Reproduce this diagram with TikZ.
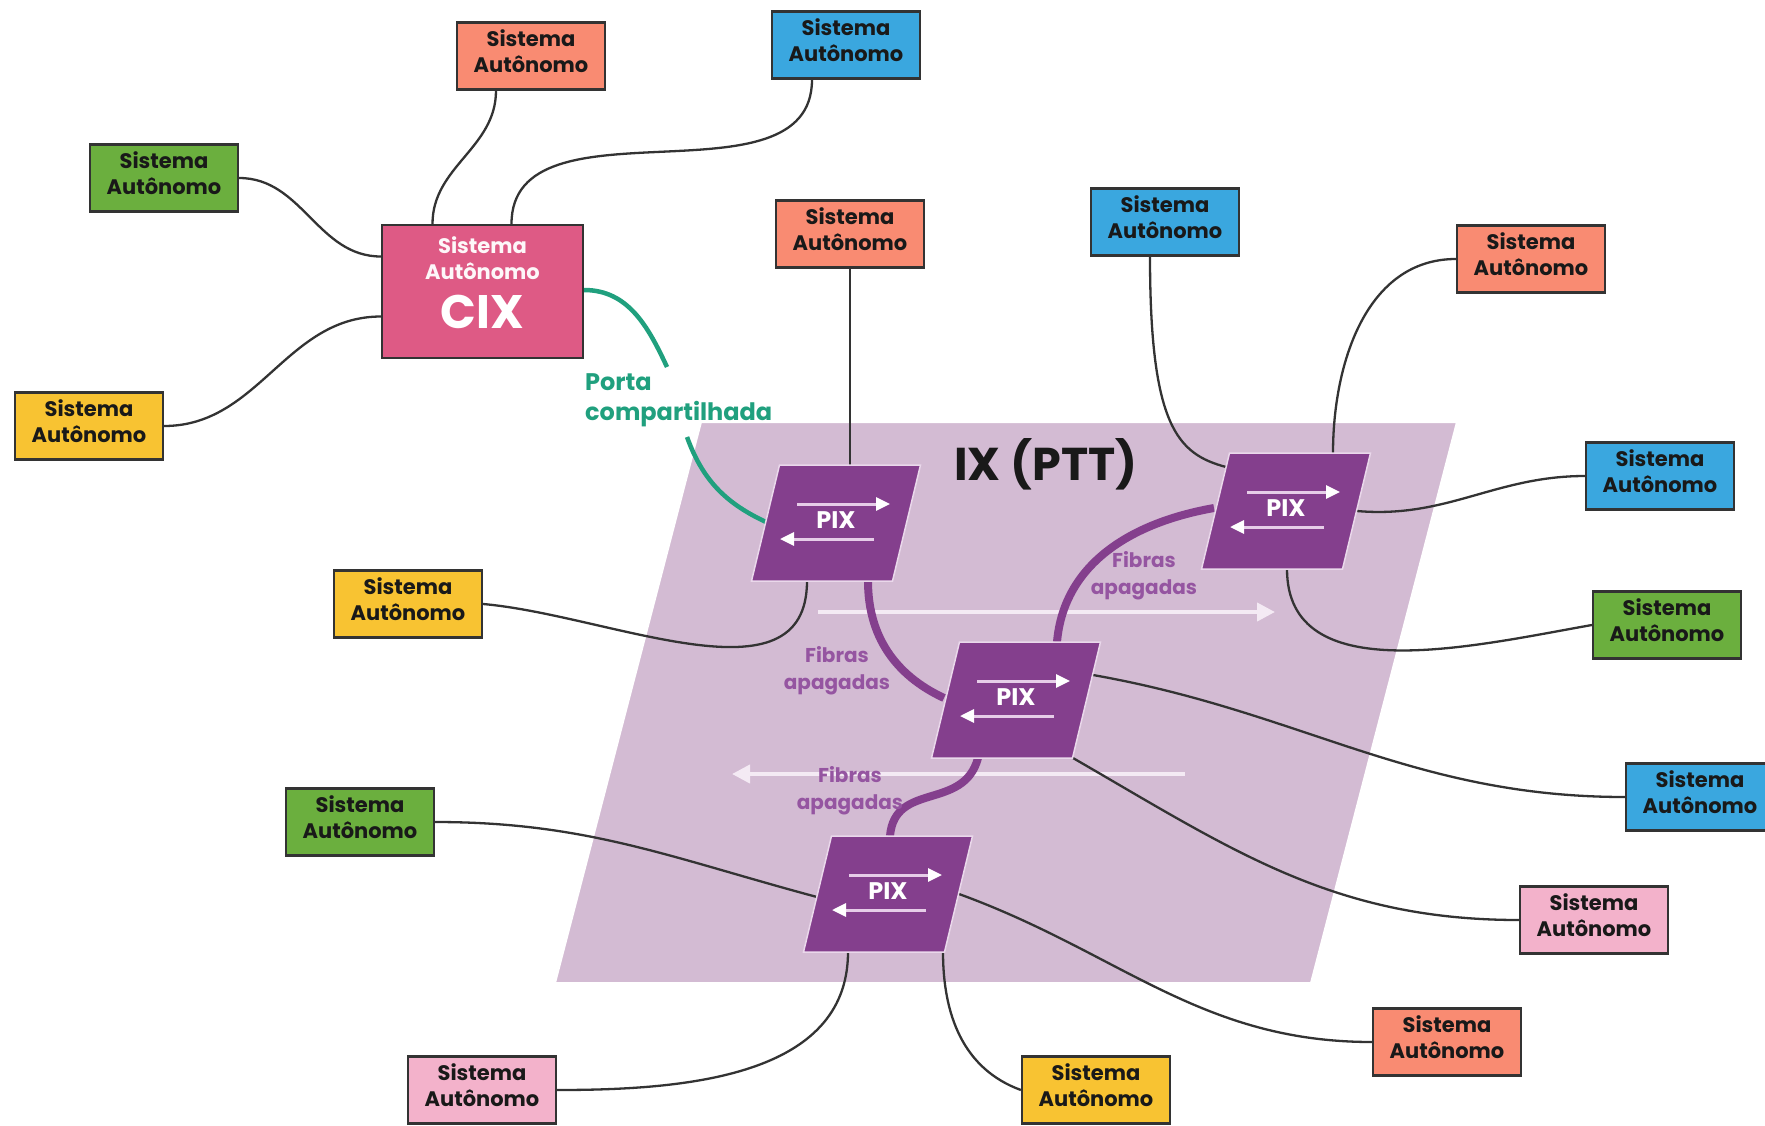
\documentclass[tikz,border=0pt]{standalone}
\usepackage{fontspec}
\setmainfont{Poppins}
\usetikzlibrary{arrows.meta,calc}
\definecolor{salmon}{HTML}{F98B72}
\definecolor{asblue}{HTML}{3AA7DF}
\definecolor{asgreen}{HTML}{6BAF3E}
\definecolor{asyellow}{HTML}{F8C332}
\definecolor{aspink}{HTML}{F3B2CB}
\definecolor{cixpink}{HTML}{DE5A85}
\definecolor{portateal}{HTML}{20A07E}
\definecolor{ixbg}{HTML}{D3BBD3}
\definecolor{pixpurple}{HTML}{843F8D}
\definecolor{pixedge}{HTML}{EAD8EB}
\definecolor{pixline}{HTML}{E6CDE8}
\definecolor{fibtext}{HTML}{9555A1}
\definecolor{wirecol}{HTML}{333333}
\definecolor{ixarrow}{HTML}{F4EAF4}
\tikzset{
  asbox/.style={draw=wirecol, line width=2.2pt, minimum width=148pt, minimum height=67pt,
    inner sep=0pt, align=center, text depth=9pt, font=\bfseries\fontsize{21}{26}\selectfont, text=black!90},
  wire/.style={draw=wirecol, line width=2.3pt},
  fiber/.style={draw=pixpurple, line width=8pt},
  porta/.style={draw=portateal, line width=4.5pt},
  bigarrow/.style={draw=ixarrow, line width=4pt, -{Triangle[width=18pt,length=18pt]}},
  pixarrow/.style={draw=pixline, line width=3pt, -{Triangle[width=13pt,length=14pt,color=white]}},
  pixtext/.style={text=white, font=\bfseries\fontsize{24}{24}\selectfont, inner sep=0pt},
  fibtxt/.style={text=fibtext, align=center, font=\bfseries\fontsize{20}{27}\selectfont},
}
\newcommand{\pixnode}[3]{%
  \coordinate (#1c) at (#2,#3);
  \fill[pixpurple, draw=pixedge, line width=1.5pt] ($(#1c)+(-56.5,-58)$) -- ($(#1c)+(84.5,-58)$) -- ($(#1c)+(56.5,58)$) -- ($(#1c)+(-84.5,58)$) -- cycle;
  \draw[pixarrow] ($(#1c)+(-39,-19)$) -- ($(#1c)+(54,-19)$);
  \draw[pixarrow] ($(#1c)+(38,16)$) -- ($(#1c)+(-56,16)$);
  \node[pixtext] (#1) at ($(#1c)+(0,-3)$) {PIX};
}
\begin{document}
\begin{tikzpicture}[x=1pt,y=-1pt]
\useasboundingbox (0,0) rectangle (1765,1125);
\clip (0,0) rectangle (1765,1125);
\fill[white] (0,0) rectangle (1765,1125);

% IX area
\fill[ixbg, draw=white, line width=2pt] (701,422) -- (1457,422) -- (1311,983) -- (555,983) -- cycle;
\node[font=\bfseries\fontsize{46}{46}\selectfont, text=black!90] (ix) at (1046,464) {IX (PTT)};

% big arrows
\coordinate (ua1) at (818,612); \coordinate (ua2) at (1275,612);
\coordinate (la1) at (1185,774); \coordinate (la2) at (732,774);
\draw[bigarrow] (ua1) -- (ua2);
\draw[bigarrow] (la1) -- (la2);

% boxes
\node[asbox, fill=salmon] (sa1) at (531,56) {Sistema\\Autônomo};
\node[asbox, fill=asblue] (sa2) at (846,45) {Sistema\\Autônomo};
\node[asbox, fill=asgreen] (sa3) at (164,178) {Sistema\\Autônomo};
\node[asbox, fill=asyellow] (sa4) at (89,426) {Sistema\\Autônomo};
\node[asbox, fill=salmon] (sa5) at (850,234) {Sistema\\Autônomo};
\node[asbox, fill=asblue] (sa6) at (1165,222) {Sistema\\Autônomo};
\node[asbox, fill=salmon] (sa7) at (1531,259) {Sistema\\Autônomo};
\node[asbox, fill=asblue] (sa8) at (1660,476) {Sistema\\Autônomo};
\node[asbox, fill=asgreen] (sa9) at (1667,625) {Sistema\\Autônomo};
\node[asbox, fill=asblue] (sa10) at (1700,797) {Sistema\\Autônomo};
\node[asbox, fill=aspink] (sa11) at (1594,920) {Sistema\\Autônomo};
\node[asbox, fill=salmon] (sa12) at (1447,1042) {Sistema\\Autônomo};
\node[asbox, fill=asyellow] (sa13) at (1096,1090) {Sistema\\Autônomo};
\node[asbox, fill=aspink] (sa14) at (482,1090) {Sistema\\Autônomo};
\node[asbox, fill=asgreen] (sa15) at (360,822) {Sistema\\Autônomo};
\node[asbox, fill=asyellow] (sa16) at (408,604) {Sistema\\Autônomo};

% CIX
\node[draw=wirecol, line width=2.2pt, fill=cixpink, minimum width=201pt, minimum height=133pt] (cix) at (482.5,291.5) {};
\node[text=white!95!cixpink, align=center, font=\bfseries\fontsize{21}{26}\selectfont] (cixa) at ($(cix.center)+(0,-33)$) {Sistema\\Autônomo};
\node[text=white, font=\bfseries\fontsize{47}{47}\selectfont] (cixb) at ($(cix.center)+(0,20)$) {CIX};

% PIX coordinates
\coordinate (p1c) at (836,523);
\coordinate (p2c) at (1016,700);
\coordinate (p3c) at (888,894);
\coordinate (p4c) at (1286,511);

% black connectors
\draw[wire] ([xshift=-35pt]sa1.south) to[out=-90,in=90] ([xshift=-50pt]cix.north);
\draw[wire] ([xshift=-34pt]sa2.south) to[out=-90,in=90] ([xshift=29pt]cix.north);
\draw[wire] (sa3.east) to[out=0,in=180] ($(cix.west)+(0,-35)$);
\draw[wire] (sa4.east) to[out=0,in=180] ($(cix.west)+(0,25)$);
\draw[wire] (sa5.south) -- ($(p1c)+(14,-58)$);
\draw[wire] ([xshift=-15pt]sa6.south) to[out=-90,in=165,out distance=170pt,in distance=50pt] ($(p4c)+(-60,-44)$);
\draw[wire] (sa7.west) to[out=180,in=90] ($(p4c)+(47,-58)$);
\draw[wire] ($(p4c)+(71,0)$) to[out=-5,in=180] (sa8.west);
\draw[wire] ($(p4c)+(1,58)$) to[out=-90,in=190] (sa9.west);
\draw[wire] ($(p2c)+(77,-25)$) to[out=-10,in=180] (sa10.west);
\draw[wire] ($(p2c)+(57,58)$) to[out=-30,in=180] (sa11.west);
\draw[wire] ($(p3c)+(71,0)$) to[out=-20,in=180] (sa12.west);
\draw[wire] ($(p3c)+(55,58)$) to[out=-90,in=160] (sa13.west);
\draw[wire] ($(p3c)+(-40,58)$) to[out=-90,in=0] (sa14.east);
\draw[wire] (sa15.east) to[out=0,in=165] ($(p3c)+(-71,3)$);
\draw[wire] (sa16.east) to[out=-5,in=-90] ($(p1c)+(-29,58)$);

% teal shared port
\coordinate (tc1) at (667,367);
\coordinate (tc2) at (687,437);
\draw[porta] ($(cix.east)+(0,-1.5)$) to[out=0,in=115] (tc1);
\draw[porta] (tc2) to[out=-70,in=155] ($(p1c)+(-70,-1)$);
\node[text=portateal, align=left, anchor=west, font=\bfseries\fontsize{24}{30}\selectfont, inner sep=0pt] (porta) at (585,400) {Porta\\compartilhada};

% fibers
\draw[fiber] ($(p1c)+(32,58)$) to[out=-90,in=155] ($(p2c)+(-72,-2)$);
\draw[fiber] ($(p2c)+(41,-58)$) to[out=85,in=190] ($(p4c)+(-72,-3)$);
\draw[fiber] ($(p2c)+(-38,58)$) to[out=-105,in=85,looseness=1.2] ($(p3c)+(2,-58)$);

% PIX units
\pixnode{p1}{836}{523}
\pixnode{p2}{1016}{700}
\pixnode{p3}{888}{894}
\pixnode{p4}{1286}{511}

% fibre labels
\node[fibtxt] (f1) at (837,671) {Fibras\\apagadas};
\node[fibtxt] (f2) at (1144,576) {Fibras\\apagadas};
\node[fibtxt] (f3) at (850,791) {Fibras\\apagadas};
\end{tikzpicture}
\end{document}
